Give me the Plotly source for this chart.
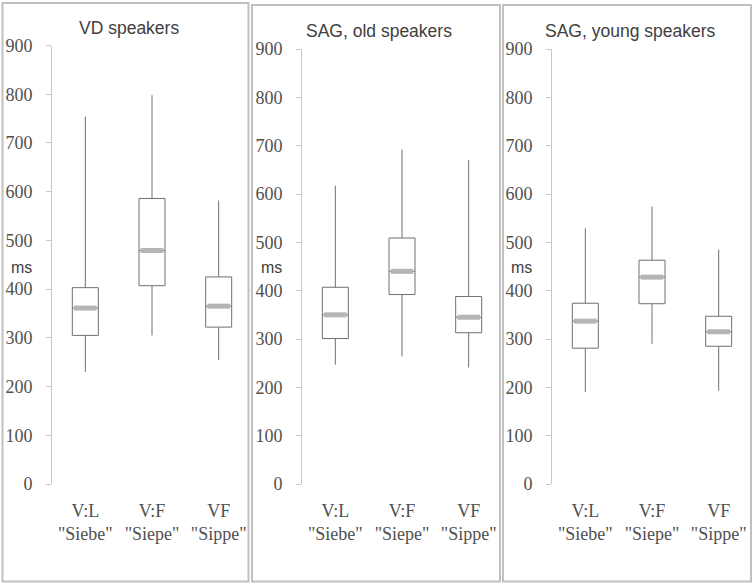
import plotly.graph_objects as go

categories = ['V:L<br>"Siebe"', 'V:F<br>"Siepe"', 'VF<br>"Sippe"']
panel_titles = ["VD speakers", "SAG, old speakers", "SAG, young speakers"]
y_ticks = [0, 100, 200, 300, 400, 500, 600, 700, 800, 900]

# Box statistics (ms) per panel: V:L, V:F, VF
vd_low = [230, 305, 254]
vd_q1 = [305, 407, 322]
vd_med = [361, 479, 365]
vd_q3 = [403, 586, 425]
vd_high = [754, 798, 582]

old_low = [247, 264, 241]
old_q1 = [301, 392, 313]
old_med = [350, 440, 345]
old_q3 = [407, 509, 388]
old_high = [617, 692, 670]

young_low = [190, 290, 193]
young_q1 = [281, 373, 285]
young_med = [337, 428, 315]
young_q3 = [374, 463, 347]
young_high = [529, 574, 485]

panels = [
    (vd_low, vd_q1, vd_med, vd_q3, vd_high),
    (old_low, old_q1, old_med, old_q3, old_high),
    (young_low, young_q1, young_med, young_q3, young_high),
]

W, H = 754, 584
axis_left_px = [52, 302, 552]
plot_w_px = 200
y_top_px = [45.5, 49, 49]
y_bot_px = 484
border_px = [(2.5, 3, 248.5, 581.5), (252, 5, 500, 581.5), (503, 5, 751, 581.5)]
title_y_px = [28, 31, 31]

BOX_LINE = "#707070"
MED_COLOR = "#b5b5b5"
AX_COLOR = "#c8c8c8"
TXT = "#505050"
SERIF = "Liberation Serif"
SANS = "Liberation Sans"

fig = go.Figure()
xs = [0, 1, 2]
for i, (low, q1, med, q3, high) in enumerate(panels):
    xa = "x" if i == 0 else f"x{i+1}"
    ya = "y" if i == 0 else f"y{i+1}"
    fig.add_trace(go.Box(
        x=xs, q1=q1, median=med, q3=q3, lowerfence=low, upperfence=high,
        width=0.39, whiskerwidth=0, boxpoints=False,
        line=dict(color=BOX_LINE, width=1), fillcolor="white",
        xaxis=xa, yaxis=ya, showlegend=False, hoverinfo="skip",
    ))
    for j in range(3):
        fig.add_trace(go.Scatter(
            x=[xs[j] - 0.17, xs[j] + 0.17], y=[med[j], med[j]], mode="lines",
            line=dict(color=MED_COLOR, width=5), xaxis=xa, yaxis=ya,
            showlegend=False, hoverinfo="skip",
        ))

    x0 = axis_left_px[i] / W
    x1 = (axis_left_px[i] + plot_w_px) / W
    yb = (H - y_bot_px) / H
    yt = (H - y_top_px[i]) / H
    xkey = "xaxis" if i == 0 else f"xaxis{i+1}"
    ykey = "yaxis" if i == 0 else f"yaxis{i+1}"
    fig.update_layout(**{
        xkey: dict(domain=[x0, x1], range=[-0.5, 2.5], anchor=ya,
                   tickvals=xs, ticktext=categories, showgrid=False,
                   zeroline=False, showline=False, ticks="",
                   automargin=False, ticklabelstandoff=14,
                   tickfont=dict(family=SERIF, size=18, color=TXT),
                   fixedrange=True),
        ykey: dict(domain=[yb, yt], range=[0, 900], anchor=xa,
                   tickvals=y_ticks, showgrid=False, zeroline=False,
                   showline=True, linecolor=AX_COLOR, linewidth=1,
                   ticks="outside", ticklen=5, tickcolor=AX_COLOR,
                   ticklabelstandoff=10, automargin=False,
                   tickfont=dict(family=SERIF, size=18, color=TXT),
                   fixedrange=True),
    })

    bx0, by0, bx1, by1 = border_px[i]
    fig.add_shape(type="rect", xref="paper", yref="paper",
                  x0=bx0 / W, x1=bx1 / W, y0=(H - by1) / H, y1=(H - by0) / H,
                  line=dict(color="#c0c0c0", width=2), layer="below")
    fig.add_annotation(xref="paper", yref="paper",
                       x=(bx0 + bx1) / 2 / W + 0.004, y=(H - title_y_px[i]) / H,
                       text=panel_titles[i], showarrow=False,
                       font=dict(family=SANS, size=17.5, color="#404040"),
                       xanchor="center", yanchor="middle")
    fig.add_annotation(xref="paper", yref="paper",
                       x=(axis_left_px[i] - 43) / W, y=(H - 267) / H,
                       text="ms", showarrow=False,
                       font=dict(family=SANS, size=16, color="#404040"),
                       xanchor="left", yanchor="middle")

fig.update_layout(width=W, height=H, autosize=False,
                  margin=dict(l=0, r=0, t=0, b=0, pad=0),
                  paper_bgcolor="white", plot_bgcolor="rgba(0,0,0,0)")
fig.write_html("out.html", config={"responsive": False, "displayModeBar": False},
               post_script="document.body.style.margin='0';document.body.style.overflow='hidden';")
